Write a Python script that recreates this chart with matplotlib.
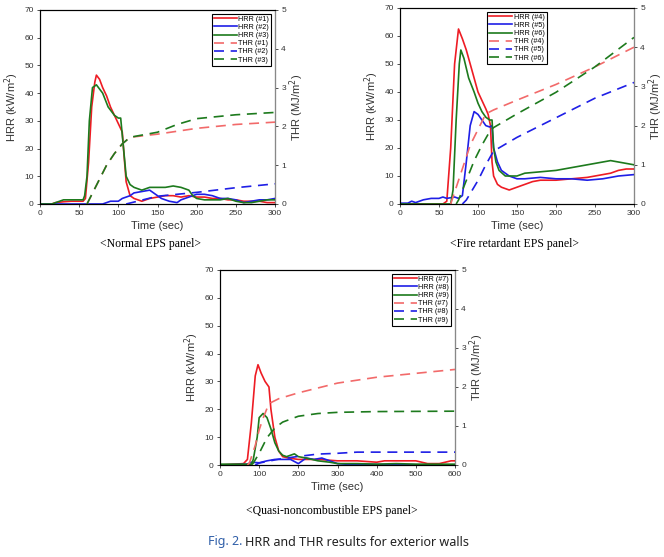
import matplotlib
matplotlib.use("Agg")
import matplotlib.pyplot as plt

plt.rcParams["font.family"] = ["Liberation Sans", "DejaVu Sans"]

RED = "#ee1c24"
RED_D = "#f26a6a"
BLUE = "#1f1fe6"
GREEN = "#1d7a1d"

# ---- Normal EPS panel ----
t1_hrr1 = [0, 15, 20, 30, 40, 50, 55, 58, 62, 66, 70, 72, 76, 80, 85, 90, 95, 100, 105, 108, 110, 115, 120, 125,
           130, 140, 150, 160, 170, 180, 190, 200, 210, 220, 230, 240, 250, 260, 270, 280, 290, 300]
hrr1 = [0, 0, 0.5, 0.8, 1, 1, 1, 2, 15, 35, 44, 46.5, 45, 42, 39, 35, 32, 29, 26, 15, 8, 3, 2, 1.5,
        1, 2, 2.5, 3, 3, 2.5, 3, 2.5, 2.5, 2, 2, 1.5, 1.5, 1, 1, 1, 0.5, 0.5]
t1_hrr2 = [0, 80, 85, 90, 100, 105, 115, 120, 130, 140, 145, 155, 165, 175, 180, 190, 200, 210, 220, 230, 240,
           250, 260, 270, 280, 290, 300]
hrr2 = [0, 0, 0.5, 1, 1, 2, 3, 4, 4.5, 5, 4, 2, 1, 0.5, 1.5, 2.5, 3.5, 3.5, 3, 2, 2, 1.5, 0.5, 1, 1.5, 1.5, 2]
t1_hrr3 = [0, 15, 20, 30, 40, 50, 55, 57, 60, 63, 67, 72, 80, 87, 95, 100, 103, 106, 110, 115, 120, 130, 135,
           140, 150, 160, 170, 180, 190, 195, 200, 210, 230, 240, 250, 260, 270, 280, 290, 300]
hrr3 = [0, 0, 0.5, 1.5, 1.5, 1.5, 1.5, 3, 10, 30, 42, 43, 40, 35, 32, 31, 31, 22, 10, 7, 6, 5, 5.5,
        6, 6, 6, 6.5, 6, 5, 3, 2, 1.5, 1.5, 2, 1, 0.5, 0.5, 1, 1.5, 1.5]
t1_thr1 = [60, 65, 75, 85, 95, 105, 115, 150, 200, 250, 300]
thr1 = [0, 0.2, 0.6, 1.0, 1.3, 1.55, 1.72, 1.8, 1.95, 2.05, 2.11]
t1_thr2 = [110, 150, 200, 250, 300]
thr2 = [0, 0.2, 0.3, 0.42, 0.52]
t1_thr3 = [60, 65, 75, 85, 95, 105, 115, 150, 175, 200, 250, 300]
thr3 = [0, 0.2, 0.6, 1.0, 1.3, 1.55, 1.72, 1.85, 2.05, 2.2, 2.3, 2.36]

# ---- Fire retardant EPS panel ----
t2_hrr4 = [0, 55, 60, 65, 70, 75, 80, 85, 90, 95, 100, 105, 110, 113, 116, 118, 120, 125, 130, 140, 150, 160,
           170, 180, 200, 220, 240, 250, 260, 270, 280, 290, 300]
hrr4 = [0, 0, 1, 20, 50, 62.5, 59, 55, 50, 45, 40, 37, 34, 32, 28, 15, 10, 7, 6, 5, 6, 7,
        8, 8.5, 8.5, 9, 9.5, 10, 10.5, 11, 12, 12.5, 12.5]
t2_hrr5 = [0, 10, 15, 20, 30, 40, 50, 55, 60, 70, 75, 80, 85, 90, 95, 100, 105, 110, 115, 118, 120, 125, 130,
           140, 150, 160, 180, 200, 220, 240, 260, 280, 300]
hrr5 = [0.3, 0.3, 1, 0.5, 1.5, 2, 2, 2.5, 2, 2.5, 2, 3, 15, 28, 33, 32, 30, 28, 27.5, 28, 20, 15, 12,
        10, 9, 9, 9.5, 9, 9, 8.5, 9, 10, 10.5]
t2_hrr6 = [0, 65, 68, 72, 76, 78, 82, 88, 95, 100, 105, 110, 115, 118, 120, 123, 127, 135, 150, 160, 180, 200,
           220, 240, 260, 270, 280, 290, 300]
hrr6 = [0, 0, 5, 30, 50, 55, 52, 45, 40, 36, 33, 31, 30, 30, 20, 15, 12, 10, 10, 11, 11.5, 12,
        13, 14, 15, 15.5, 15, 14.5, 14]
t2_thr4 = [65, 70, 80, 90, 100, 110, 120, 150, 200, 250, 300]
thr4 = [0, 0.3, 0.9, 1.5, 1.9, 2.3, 2.4, 2.65, 3.05, 3.5, 4.0]
t2_thr5 = [80, 85, 100, 110, 120, 150, 200, 250, 300]
thr5 = [0, 0.1, 0.6, 1.0, 1.35, 1.7, 2.2, 2.7, 3.1]
t2_thr6 = [72, 75, 85, 95, 105, 115, 120, 150, 200, 250, 300]
thr6 = [0, 0.1, 0.6, 1.1, 1.5, 1.85, 1.95, 2.3, 2.85, 3.5, 4.25]

# ---- Quasi-noncombustible EPS panel ----
t3_hrr7 = [0, 60, 70, 80, 90, 97, 105, 115, 125, 130, 140, 150, 160, 175, 200, 250, 300, 350, 400, 420, 450,
           500, 530, 560, 590, 600]
hrr7 = [0, 0.5, 2, 15, 32, 36, 33, 30, 28, 20, 10, 5, 3, 2.5, 2, 2, 1.5, 1.5, 1, 1.5, 1.5,
        1.5, 0.5, 0.5, 1.5, 1.5]
t3_hrr8 = [0, 70, 80, 100, 120, 140, 160, 180, 200, 220, 240, 260, 280, 300, 320, 600]
hrr8 = [0, 0.3, 1, 0.8, 1.5, 2, 2, 2, 0.5, 2.5, 2, 2.5, 1.5, 0.5, 0.3, 0]
t3_hrr9 = [0, 80, 85, 95, 100, 110, 120, 130, 140, 150, 160, 170, 180, 190, 200, 220, 250, 280, 300, 350, 400,
           450, 500, 600]
hrr9 = [0.3, 0.3, 2, 10, 17, 18.5, 17, 13, 8, 5, 3.5, 3, 3.5, 4, 3, 2.5, 1.5, 1, 0.5, 0.5, 0.3,
        0.5, 0.3, 0.3]
t3_thr7 = [70, 75, 90, 100, 110, 120, 130, 150, 200, 300, 400, 500, 600]
thr7 = [0, 0.05, 0.5, 0.9, 1.2, 1.45, 1.6, 1.7, 1.85, 2.1, 2.25, 2.35, 2.45]
t3_thr8 = [90, 100, 150, 200, 250, 300, 350, 600]
thr8 = [0, 0.05, 0.15, 0.22, 0.28, 0.3, 0.33, 0.33]
t3_thr9 = [80, 85, 100, 120, 140, 160, 200, 250, 300, 400, 600]
thr9 = [0, 0.05, 0.3, 0.7, 0.95, 1.1, 1.25, 1.32, 1.35, 1.37, 1.38]

W, H = 664, 557


def px(l, t, r, b):
    return [l / W, 1 - b / H, (r - l) / W, (b - t) / H]


def panel(rect, xmax, xstep, hrr, thr, labels, legend_kw):
    ax = fig.add_axes(px(*rect))
    ax2 = ax.twinx()
    colors = [RED, BLUE, GREEN]
    dcolors = [RED_D, BLUE, GREEN]
    handles = []
    for (t, v), c, lab in zip(hrr, colors, labels):
        h, = ax.plot(t, v, color=c, lw=1.2, label="HRR (#%s)" % lab)
        handles.append(h)
    for (t, v), c, lab in zip(thr, dcolors, labels):
        h, = ax2.plot(t, v, color=c, lw=1.2, ls=(0, (6, 4)), label="THR (#%s)" % lab)
        handles.append(h)
    ax.set_xlim(0, xmax)
    ax.set_ylim(0, 70)
    ax2.set_ylim(0, 5)
    ax.set_xticks(range(0, xmax + 1, xstep))
    ax.set_yticks(range(0, 71, 10))
    ax2.set_yticks(range(0, 6))
    for a in (ax, ax2):
        a.tick_params(labelsize=6, length=2.5, width=0.6, pad=2, colors="#333333")
    ax2.spines["right"].set_color("#888888")
    for s in ("left", "bottom", "top"):
        ax.spines[s].set_linewidth(0.8)
    ax.set_xlabel("Time (sec)", fontsize=8, labelpad=3, color="#333333")
    ax.set_ylabel("HRR (kW/m$^2$)", fontsize=8, labelpad=2, color="#333333")
    ax2.set_ylabel("THR (MJ/m$^2$)", fontsize=8, labelpad=1, color="#333333")
    leg = ax2.legend(handles=handles, fontsize=5.2, fancybox=False, edgecolor="black",
                     framealpha=1, handlelength=3.2, handletextpad=0.2, labelspacing=0.15,
                     borderpad=0.3, borderaxespad=0.5, **legend_kw)
    leg.get_frame().set_linewidth(0.8)
    return ax


fig = plt.figure(figsize=(W / 100, H / 100), dpi=100)

panel((40, 10, 275, 204), 300, 50,
      [(t1_hrr1, hrr1), (t1_hrr2, hrr2), (t1_hrr3, hrr3)],
      [(t1_thr1, thr1), (t1_thr2, thr2), (t1_thr3, thr3)],
      ["1", "2", "3"], dict(loc="upper right"))
panel((400, 8, 634, 204), 300, 50,
      [(t2_hrr4, hrr4), (t2_hrr5, hrr5), (t2_hrr6, hrr6)],
      [(t2_thr4, thr4), (t2_thr5, thr5), (t2_thr6, thr6)],
      ["4", "5", "6"], dict(loc="upper center", bbox_to_anchor=(0.5, 1.0)))
panel((220, 270, 455, 465), 600, 100,
      [(t3_hrr7, hrr7), (t3_hrr8, hrr8), (t3_hrr9, hrr9)],
      [(t3_thr7, thr7), (t3_thr8, thr8), (t3_thr9, thr9)],
      ["7", "8", "9"], dict(loc="upper right"))

serif = dict(family="Liberation Serif", fontsize=8.5, ha="center", va="center")
fig.text(150 / W, 1 - 244 / H, "<Normal EPS panel>", **serif)
fig.text(515 / W, 1 - 244 / H, "<Fire retardant EPS panel>", **serif)
fig.text(332 / W, 1 - 511 / H, "<Quasi-noncombustible EPS panel>", **serif)

cap = dict(family="Noto Sans", fontsize=9, va="center", fontstretch="condensed")
head = fig.text(208 / W, 1 - 542 / H, "Fig. 2.", color="#2f5ea8", ha="left", **cap)
r = fig.canvas.get_renderer()
x_end = head.get_window_extent(r).x1
fig.text((x_end + 3) / W, 1 - 542 / H, "HRR and THR results for exterior walls",
         color="#222222", ha="left", **cap)

fig.savefig("out.png", dpi=100)
